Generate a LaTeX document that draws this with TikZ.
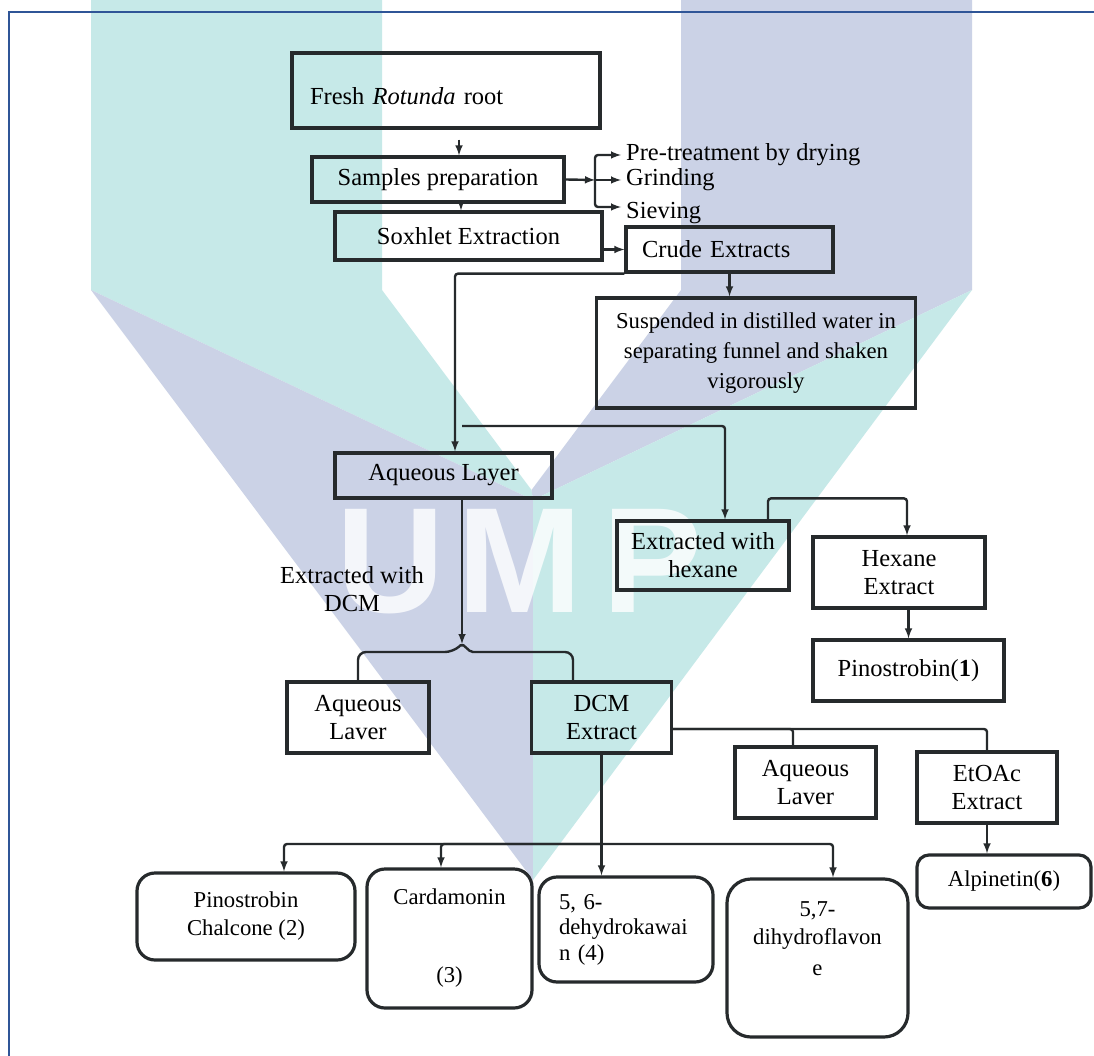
\documentclass[tikz,border=0pt]{standalone}
\usepackage{fontspec}
\setmainfont{Liberation Serif}
\newfontfamily\logofont{Liberation Sans}
\usetikzlibrary{positioning}
\usetikzlibrary{calc}
\usetikzlibrary{arrows}

\definecolor{wmteal}{RGB}{198,233,232}
\definecolor{wmblue}{RGB}{203,210,230}
\definecolor{frameblue}{RGB}{47,85,151}
\definecolor{ink}{RGB}{38,42,44}

\begin{document}
\begin{tikzpicture}[x=1pt,y=-1pt]
\tikzstyle{box} =[rectangle,draw=ink,line width=3.2pt,inner sep=2pt,align=center,font=\fontsize{24.5}{28}\selectfont]
\tikzstyle{rbox} =[box,rounded corners=18pt,font=\fontsize{22.7}{28}\selectfont]
\tikzstyle{link} =[draw=ink,line width=2.4pt,rounded corners=3pt]
\tikzstyle{note} =[inner sep=0pt,align=center,font=\fontsize{24.5}{28}\selectfont]
\tikzstyle{wmletter} =[inner sep=0pt,anchor=base west,text=white,text opacity=0.8,font=\logofont\bfseries\fontsize{150}{150}\selectfont]

\useasboundingbox (0,0) rectangle (1094,1056);
\fill[white] (0,0) rectangle (1094,1056);

% watermark
\fill[wmteal] (91,0) -- (382,0) -- (382,290) -- (531.5,490) -- (533,500) -- (91,290) -- cycle;
\fill[wmblue] (681,0) -- (972,0) -- (972,290) -- (533,500) -- (531.5,490) -- (681,290) -- cycle;
\fill[wmblue] (91,290) -- (533,500) -- (533,880) -- cycle;
\fill[wmteal] (972,290) -- (533,500) -- (533,880) -- cycle;
\node[wmletter] (wmU) at (336,612) {U};
\node[wmletter] (wmM) at (457,612) {M};
\node[wmletter] (wmP) at (602,612) {P};

% frame
\draw[frameblue,line width=2pt] (9,1056) -- (9,12) -- (1094,12);

% preparation
\node[box,minimum width=308pt,minimum height=75pt,text width=272pt,align=left](fresh) at (446,90.5){\raisebox{-6pt}[\height][\depth]{Fresh \textit{Rotunda} root}};
\node[box,minimum width=252pt,minimum height=45pt](samples) at (438,179.5){Samples preparation};
\node[box,minimum width=267pt,minimum height=48pt](soxhlet) at (468.5,236){Soxhlet Extraction};
\node[note,anchor=west,inner xsep=5pt](pre) at (621,155){Pre-treatment by drying};
\node[note,anchor=west,inner xsep=5pt](grind) at (621,180){Grinding};
\node[note,anchor=west,inner xsep=5pt](sieve) at (621,213){Sieving};

\draw[link,-latex] ($(fresh.south)+(13,10)$) -- ($(samples.north)+(21,0)$);
\draw[link,-latex] ($(samples.south)+(23,0)$) -- ($(soxhlet.north)+(-7.5,0)$);
\coordinate (fork) at (595,180);
\draw[link,-latex] (samples.east) -- (fork);
\draw[link,-latex] (fork) |- (pre.west);
\draw[link,-latex] (fork) -- (grind.west);
\draw[link,-latex] (fork) |- ($(sieve.west)+(0,-6)$);

% extraction
\node[box,minimum width=207pt,minimum height=45pt,text width=175pt,align=left](crude) at (729.5,249.5){Crude Extracts};
\node[box,minimum width=319pt,minimum height=110pt,font=\fontsize{22.7}{30}\selectfont](susp) at (756,353){Suspended in distilled water in\\separating funnel and shaken\\vigorously};
\draw[link,-latex] (soxhlet.east |- crude.west) -- (crude.west);
\draw[link,-latex] (crude.south) -- (susp.north -| crude.south);

\node[box,minimum width=217pt,minimum height=45pt](aqua) at (443.5,475.5){Aqueous Layer};
\node[box,minimum width=172pt,minimum height=69pt](exthex) at (703,555.5){Extracted with\\hexane};
\node[box,minimum width=172pt,minimum height=71pt](hexane) at (899,572.5){Hexane\\Extract};
\node[box,minimum width=191pt,minimum height=61pt](pino1) at (908.5,670.5){Pinostrobin(\textbf{1})};
\draw[link,-latex] (crude.south west) -| ($(aqua.north)+(11.5,0)$);
\coordinate (split) at (462,426);
\draw[link,-latex] (split) -| ($(exthex.north)+(22,0)$);
\draw[link,-latex] ($(exthex.north)+(65,0)$) -- ++(0,-21) -| ($(hexane.north)+(8,0)$);
\draw[link,-latex] (pino1.north |- hexane.south) -- (pino1.north);

% DCM partition
\node[note](dcmnote) at (352,589){Extracted with\\DCM};
\node[box,minimum width=142pt,minimum height=71pt](aql) at (358,717.5){Aqueous\\Laver};
\node[box,minimum width=140pt,minimum height=71pt](dcm) at (601.5,717.5){DCM\\Extract};
\coordinate (notch) at (462,644);
\draw[link,-latex] ($(aqua.south)+(18.5,0)$) -- (notch);
\draw[link,rounded corners=8pt] (aql.north) |- ($(notch)+(-9,8)$) [rounded corners=2pt] -- (notch) -- ($(notch)+(9,8)$) [rounded corners=8pt] -| ($(dcm.north)+(-28.5,0)$);

\node[box,minimum width=141pt,minimum height=71pt](aql2) at (805.5,782.5){Aqueous\\Laver};
\node[box,minimum width=140pt,minimum height=71pt](etoac) at (987,787.5){EtOAc\\Extract};
\node[rbox,minimum width=174pt,minimum height=53pt,rounded corners=12pt](alp) at (1004,881.5){Alpinetin(\textbf{6})};
\draw[link] ($(dcm.east)+(0,11.5)$) -| (etoac.north);
\draw[link] ($(dcm.east)+(0,11.5)$) -| ($(aql2.north)+(-12.5,0)$);
\draw[link,-latex] (etoac.south) -- (etoac.south |- alp.north);

% compounds
\node[rbox,minimum width=218pt,minimum height=87pt](pc) at (246,916.5){Pinostrobin\\Chalcone (2)};
\node[rbox,minimum width=165pt,minimum height=139pt](card) at (449.5,938.5){Cardamonin\\[50pt](3)};
\node[rbox,minimum width=174pt,minimum height=105pt,text width=134pt,align=left,font=\fontsize{22.7}{25.5}\selectfont](dk) at (626,929.5){5, 6-\\dehydrokawai\\n (4)};
\node[rbox,minimum width=181pt,minimum height=158pt,rounded corners=24pt](df) at (817.5,958){5,7-\\dihydroflavon\\[3pt]e\\[2pt]\strut};
\draw[link,-latex] (dcm.south) -- (dcm.south |- dk.north);
\coordinate (bus) at (601.5,844);
\draw[link,-latex] (bus) -| ($(pc.north)+(38,0)$);
\draw[link,-latex] (bus) -| ($(card.north)+(-8.5,0)$);
\draw[link,-latex] (bus) -| ($(df.north)+(15.5,0)$);
\end{tikzpicture}
\end{document}
